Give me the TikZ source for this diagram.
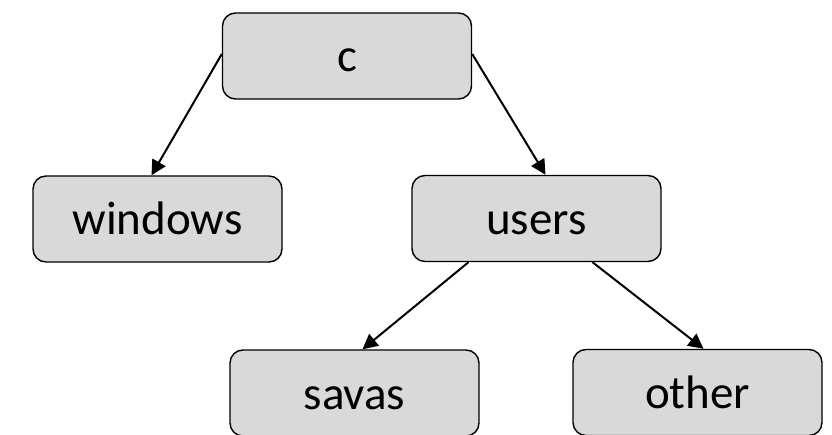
\documentclass[tikz,border=0pt]{standalone}
\usepackage{fontspec}
\setmainfont{Carlito}
\usetikzlibrary{arrows.meta}
\begin{document}
\begin{tikzpicture}[x=1pt,y=-1pt,
  folder/.style={draw=black, line width=1.4pt, fill=black!15, rounded corners=13pt,
    minimum width=249pt, minimum height=86pt, inner sep=0pt,
    text height=32pt, text depth=0pt, font=\fontsize{47}{50}\selectfont},
  link/.style={line width=2pt, -{Triangle[length=15pt,width=15pt]}}]
  \useasboundingbox (0,0) rectangle (832,435);
  \node[folder] (c) at (347,56) {c};
  \node[folder] (windows) at (157.5,219) {windows};
  \node[folder] (users) at (536.5,218.5) {users};
  \node[folder] (savas) at (354.5,393) {savas};
  \node[folder] (other) at (697.5,392.5) {other};
  \draw[link] ([yshift=2pt]c.west) -- ([xshift=-6pt]windows.north);
  \draw[link] ([yshift=2pt]c.east) -- ([xshift=9pt]users.north);
  \draw[link] ([xshift=-68pt]users.south) -- ([xshift=8pt]savas.north);
  \draw[link] ([xshift=56pt]users.south) -- ([xshift=6pt]other.north);
\end{tikzpicture}
\end{document}
